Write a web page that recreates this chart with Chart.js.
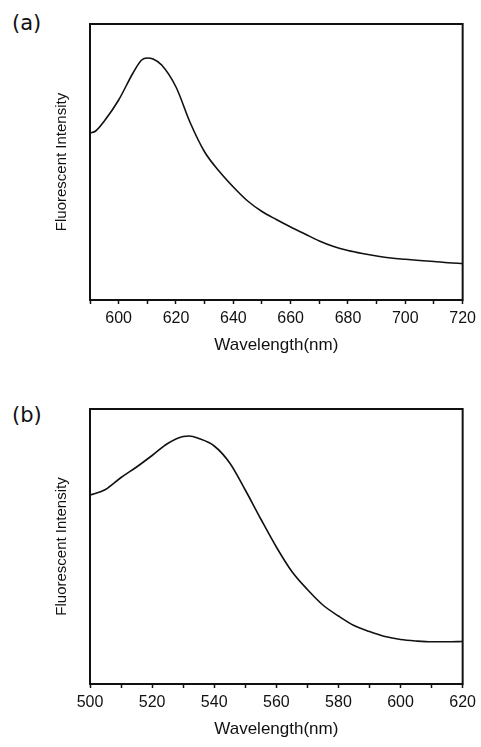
<!DOCTYPE html>
<html>
<head>
<meta charset="utf-8">
<script src="https://cdn.jsdelivr.net/npm/chart.js@4/dist/chart.umd.min.js"></script>
<style>
  html, body { margin: 0; padding: 0; background: #fff; }
  body { width: 481px; height: 747px; position: relative; overflow: hidden; }
  canvas { position: absolute; left: 0; }
  .plabel { position: absolute; left: 12px; font-family: "DejaVu Sans", sans-serif; font-size: 21px; line-height: 1; color: #111; }
</style>
</head>
<body>
<div class="plabel" style="top:13px">(a)</div>
<div class="plabel" style="top:405px">(b)</div>
<canvas id="ca" width="481" height="370" style="top:0"></canvas>
<canvas id="cb" width="481" height="377" style="top:370px"></canvas>
<script>
// Panel (a)
const wavelengthA = [590, 592, 595, 600, 605, 608, 610, 612, 615, 620, 625, 630, 635, 640, 645, 650, 655, 660, 665, 670, 675, 680, 685, 690, 695, 700, 705, 710, 715, 720];
const intensityA  = [167, 169, 179, 200, 227, 240, 242, 241, 235, 213, 177, 148, 129, 113, 99, 88.5, 80.5, 73, 66, 59, 53.5, 49.5, 46.5, 44, 42, 40.7, 39.5, 38.5, 37.3, 36.5];
// Panel (b)
const wavelengthB = [500, 505, 510, 515, 520, 525, 530, 532, 535, 540, 545, 550, 555, 560, 565, 570, 575, 580, 585, 590, 595, 600, 605, 610, 615, 620];
const intensityB  = [189, 194.5, 206.5, 217, 228.5, 240.5, 247.5, 248, 245.5, 238, 221, 194, 165, 137, 112.5, 94.5, 79, 68, 58.5, 52.5, 47.5, 44.5, 43, 42.2, 42.2, 42.5];

const xTitle = "Wavelength(nm)";
const yTitle = "Fluorescent Intensity";

const boxPlugin = {
  id: 'box',
  afterDraw(chart) {
    const a = chart.chartArea, ctx = chart.ctx;
    ctx.save();
    ctx.strokeStyle = '#111';
    ctx.lineWidth = 2;
    ctx.strokeRect(a.left, a.top, a.right - a.left, a.bottom - a.top);
    ctx.restore();
  }
};

function makeChart(id, xs, ys, xmin, xmax, ymax, padTop, axisH, titlePadBottom) {
  const pts = xs.map((x, i) => ({x: x, y: ys[i]}));
  return new Chart(document.getElementById(id), {
    type: 'line',
    data: { datasets: [{ data: pts, borderColor: '#111', borderWidth: 1.6, pointRadius: 0, fill: false, cubicInterpolationMode: 'monotone' }] },
    options: {
      responsive: false,
      animation: false,
      devicePixelRatio: 1,
      layout: { padding: { top: padTop, right: 18, left: 0, bottom: 0 } },
      plugins: { legend: { display: false }, tooltip: { enabled: false } },
      scales: {
        x: {
          type: 'linear', min: xmin, max: xmax,
          border: { display: false },
          grid: { drawOnChartArea: false, tickLength: 4, tickColor: '#111', tickWidth: 1.5 },
          ticks: { stepSize: 10, autoSkip: false, maxRotation: 0, padding: 5, color: '#111',
                   font: { family: '"Liberation Sans", Arial, sans-serif', size: 16 },
                   callback: v => (v % 20 === 0 ? String(v) : '') },
          title: { display: true, text: xTitle, color: '#111',
                   font: { family: '"Liberation Sans", Arial, sans-serif', size: 17 },
                   padding: { top: 0, bottom: titlePadBottom } },
          afterFit: s => { s.height = axisH; }
        },
        y: {
          min: 0, max: ymax,
          border: { display: false },
          grid: { display: false },
          ticks: { display: false },
          title: { display: true, text: yTitle, color: '#111',
                   font: { family: '"Liberation Sans", Arial, sans-serif', size: 15 },
                   padding: { top: 53, bottom: 0 } },
          afterFit: s => { s.width = 90; }
        }
      }
    },
    plugins: [boxPlugin]
  });
}

makeChart('ca', wavelengthA, intensityA, 590, 720, 276, 24, 70, 14);
makeChart('cb', wavelengthB, intensityB, 500, 620, 275, 39, 63, 7);
</script>
</body>
</html>
